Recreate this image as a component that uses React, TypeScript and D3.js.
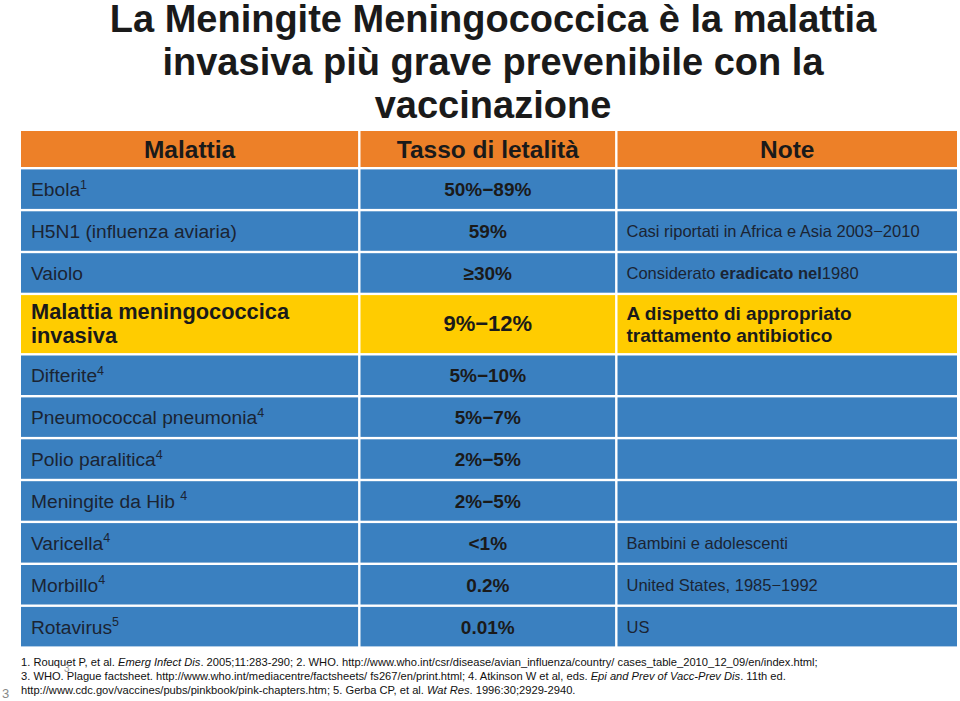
import React from "react";
import * as d3 from "d3";

// table content
const titleLines = [
  "La Meningite Meningococcica è la malattia",
  "invasiva più grave prevenibile con la",
  "vaccinazione",
];
const headers = ["Malattia", "Tasso di letalità", "Note"];
const diseases = [
  ["Ebola"],
  ["H5N1 (influenza aviaria)"],
  ["Vaiolo"],
  ["Malattia meningococcica", "invasiva"],
  ["Difterite"],
  ["Pneumococcal pneumonia"],
  ["Polio paralitica"],
  ["Meningite da Hib "],
  ["Varicella"],
  ["Morbillo"],
  ["Rotavirus"],
];
const refs = ["1", "", "", "", "4", "4", "4", "4", "4", "4", "5"];
const rates = ["50%−89%", "59%", "≥30%", "9%−12%", "5%−10%", "5%−7%", "2%−5%", "2%−5%", "<1%", "0.2%", "0.01%"];
// note parts: [text, bold]
const notes: [string, boolean][][][] = [
  [],
  [[["Casi riportati in Africa e Asia 2003−2010", false]]],
  [[["Considerato ", false], ["eradicato nel", true], ["1980", false]]],
  [[["A dispetto di appropriato", true]], [["trattamento antibiotico", true]]],
  [],
  [],
  [],
  [],
  [[["Bambini e adolescenti", false]]],
  [[["United States, 1985−1992", false]]],
  [[["US", false]]],
];
const highlightRow = 3;
// footnote parts: [text, italic]
const footnotes: [string, boolean][][] = [
  [["1. Rouquet P, et al. ", false], ["Emerg Infect Dis", true], [". 2005;11:283-290; 2. WHO. http://www.who.int/csr/disease/avian_influenza/country/ cases_table_2010_12_09/en/index.html;", false]],
  [["3. WHO. Plague factsheet. http://www.who.int/mediacentre/factsheets/ fs267/en/print.html; 4. Atkinson W et al, eds. ", false], ["Epi and Prev of Vacc-Prev Dis", true], [". 11th ed.", false]],
  [["http://www.cdc.gov/vaccines/pubs/pinkbook/pink-chapters.htm; 5. Gerba CP, et al. ", false], ["Wat Res", true], [". 1996:30;2929-2940.", false]],
];

const W = 960;
const H = 701;
const FONT = "Arial, 'Liberation Sans', sans-serif";
const ORANGE = "#ED8028";
const BLUE = "#3A80C0";
const YELLOW = "#FFCC00";
const INK = "#1b2433";

export default function App() {
  const colEdges = [21, 360.5, 617.5, 957];
  const gap = 2.4;
  const x = d3.scaleOrdinal<number, number>().domain([0, 1, 2]).range(colEdges.slice(0, 3));
  const colW = (i: number) => colEdges[i + 1] - colEdges[i] - (i < 2 ? gap : 0);

  const headerTop = 131;
  const headerH = 36;
  const rowH = (d: string[]) => (d.length > 1 ? 58 : 39.5);
  const heights = diseases.map(rowH);
  const starts = [0, ...Array.from(d3.cumsum(heights.map((h) => h + gap)))];
  const y = d3
    .scaleLinear()
    .domain([0, 1])
    .range([headerTop + headerH + gap, headerTop + headerH + gap + 1]);

  return (
    <svg width={W} height={H} style={{ position: "absolute", left: 0, top: 0 }} fontFamily={FONT}>
      <rect width={W} height={H} fill="#fff" />
      {titleLines.map((t, i) => (
        <text
          key={i}
          x={493}
          y={31.5 + i * 43}
          textAnchor="middle"
          fontSize={38}
          fontWeight="bold"
          fill="#1a1a1a"
        >
          {t}
        </text>
      ))}

      {/* header */}
      {headers.map((h, i) => (
        <g key={h}>
          <rect x={x(i)} y={headerTop} width={colW(i)} height={headerH} fill={ORANGE} />
          <text
            x={x(i) + colW(i) / 2}
            y={headerTop + headerH / 2 + 8.5}
            textAnchor="middle"
            fontSize={24.5}
            fontWeight="bold"
            fill="#1a1a1a"
          >
            {h}
          </text>
        </g>
      ))}

      {/* rows */}
      {diseases.map((d, r) => {
        const top = y(starts[r]);
        const h = heights[r];
        const mid = top + h / 2;
        const hi = r === highlightRow;
        const fill = hi ? YELLOW : BLUE;
        return (
          <g key={r}>
            {[0, 1, 2].map((c) => (
              <rect key={c} x={x(c)} y={top} width={colW(c)} height={h} fill={fill} />
            ))}
            {d.map((line, li) => (
              <text
                key={li}
                x={x(0) + 10}
                y={mid + 7 + (li - (d.length - 1) / 2) * 24}
                fontSize={hi ? 21.8 : 19.2}
                fontWeight={hi ? "bold" : "normal"}
                fill={hi ? "#1a1a1a" : INK}
              >
                {line}
                {li === d.length - 1 && refs[r] ? (
                  <tspan fontSize={12.5} dy={-7.5}>
                    {refs[r]}
                  </tspan>
                ) : null}
              </text>
            ))}
            <text
              x={x(1) + colW(1) / 2}
              y={mid + 7}
              textAnchor="middle"
              fontSize={hi ? 22 : 19}
              fontWeight="bold"
              fill="#1a1a1a"
            >
              {rates[r]}
            </text>
            {notes[r].map((line, li) => (
              <text
                key={li}
                x={x(2) + 9}
                y={mid + (hi ? 6.5 : 6) + (li - (notes[r].length - 1) / 2) * 22}
                fontSize={hi ? 19 : 16.5}
                fill={hi ? "#1a1a1a" : INK}
              >
                {line.map(([t, b], k) => (
                  <tspan key={k} fontWeight={b ? "bold" : "normal"}>
                    {t}
                  </tspan>
                ))}
              </text>
            ))}
          </g>
        );
      })}

      {/* references */}
      {footnotes.map((line, i) => (
        <text key={i} x={21} y={665.5 + i * 14.2} fontSize={11.15} fill="#111">
          {line.map(([t, it], k) => (
            <tspan key={k} fontStyle={it ? "italic" : "normal"}>
              {t}
            </tspan>
          ))}
        </text>
      ))}
      <text x={64} y={672} fontSize={10} fill="#999">
        3
      </text>
      <text x={2} y={698} fontSize={13} fill="#888">
        3
      </text>
    </svg>
  );
}
